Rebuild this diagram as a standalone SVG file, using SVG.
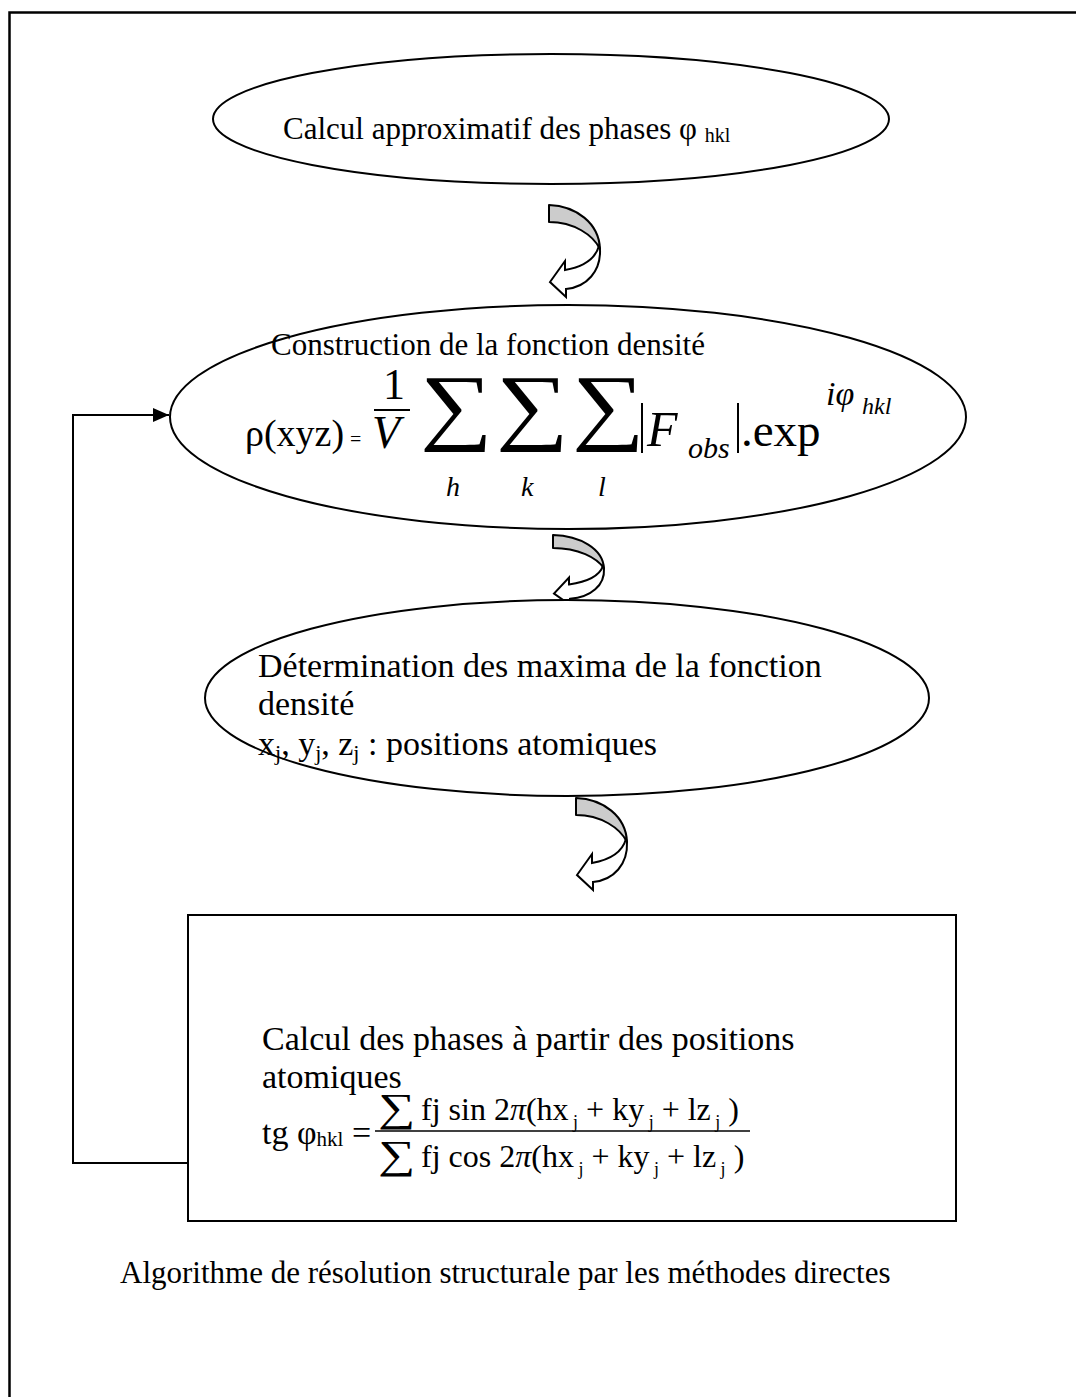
<svg xmlns="http://www.w3.org/2000/svg" width="1076" height="1397" viewBox="0 0 1076 1397">
<style>
.t{font-family:"Liberation Serif","Times New Roman",serif;font-size:31px;fill:#000}
.t2{font-family:"Liberation Serif","Times New Roman",serif;font-size:34px;fill:#000}
.m{font-family:"Liberation Serif","Times New Roman",serif;fill:#000}
.i{font-style:italic}
.node{fill:#fff;stroke:#000;stroke-width:2}
.gray{fill:#cccccc;stroke:#000;stroke-width:2;stroke-linejoin:round}
.white{fill:#fff;stroke:#000;stroke-width:2;stroke-linejoin:miter}
.conn{fill:none;stroke:#000;stroke-width:2}
</style>
<defs>
<marker id="ah" viewBox="0 0 16 14" refX="16" refY="7" markerWidth="16" markerHeight="14" markerUnits="userSpaceOnUse" orient="auto">
<path d="M0,0 L16,7 L0,14 Z" fill="#000"/>
</marker>
<g id="curve-arrow">
<path class="gray" vector-effect="non-scaling-stroke" d="M0,0 C27,1 50,18 51,44 C44,30 25,17 0,17 Z"/>
<path class="white" vector-effect="non-scaling-stroke" d="M51,44 C52,66 38,82 17,84 L17,92 L1,77 L16,56 L16,65 C33,62 46,55 50,41 Z"/>
</g>
</defs>
<rect x="0" y="0" width="1076" height="1397" fill="#fff"/>
<rect x="9.5" y="12.5" width="1090" height="1420" fill="none" stroke="#000" stroke-width="2.5"/>

<g id="connectors">
<use href="#curve-arrow" transform="translate(549,205)"/>
<use href="#curve-arrow" transform="translate(553,535) scale(1,0.76)"/>
<use href="#curve-arrow" transform="translate(576,798)"/>
<path class="conn" d="M188,1163 H73 V415 H169" marker-end="url(#ah)"/>
</g>

<g id="node-calcul-approx">
<ellipse class="node" cx="551" cy="119" rx="338" ry="65"/>
<text class="t" x="283" y="139">Calcul approximatif des phases φ <tspan font-size="20" dy="3">hkl</tspan></text>
</g>

<g id="node-construction">
<ellipse class="node" cx="568" cy="417" rx="398" ry="112"/>
<text class="t" x="271" y="355">Construction de la fonction densité</text>
<text class="m" x="245" y="446" font-size="38">ρ(xyz)</text>
<text class="m" x="350" y="446" font-size="20">=</text>
<text class="m" x="383" y="399" font-size="44">1</text>
<line x1="374" y1="410" x2="410" y2="410" stroke="#000" stroke-width="2"/>
<text class="m i" x="372" y="448" font-size="46">V</text>
<text class="m" transform="translate(420,434) scale(1.2,1)" font-size="85">∑</text>
<text class="m" transform="translate(496,434) scale(1.2,1)" font-size="85">∑</text>
<text class="m" transform="translate(572,434) scale(1.2,1)" font-size="85">∑</text>
<text class="m i" x="446" y="496" font-size="28">h</text>
<text class="m i" x="521" y="496" font-size="28">k</text>
<text class="m i" x="598" y="496" font-size="28">l</text>
<line x1="642" y1="403" x2="642" y2="453" stroke="#000" stroke-width="2"/>
<text class="m i" x="647" y="446" font-size="50">F</text>
<text class="m i" x="688" y="458" font-size="30">obs</text>
<line x1="738" y1="403" x2="738" y2="453" stroke="#000" stroke-width="2"/>
<text class="m" x="741" y="446" font-size="47">.exp</text>
<text class="m i" x="826" y="405" font-size="34">iφ</text>
<text class="m i" x="862" y="414" font-size="24">hkl</text>
</g>

<g id="node-maxima">
<ellipse class="node" cx="567" cy="698" rx="362" ry="98"/>
<text class="t2" x="258" y="677">Détermination des maxima de la fonction</text>
<text class="t2" x="258" y="715">densité</text>
<text class="t2" x="258" y="755">x<tspan font-size="22" dy="5">j</tspan><tspan dy="-5">, y</tspan><tspan font-size="22" dy="5">j</tspan><tspan dy="-5">, z</tspan><tspan font-size="22" dy="5">j</tspan><tspan dy="-5"> : positions atomiques</tspan></text>
</g>

<g id="node-calcul-phases">
<rect class="node" x="188" y="915" width="768" height="306"/>
<text class="t2" x="262" y="1050">Calcul des phases à partir des positions</text>
<text class="t2" x="262" y="1088">atomiques</text>
<text class="t2" x="262" y="1144">tg φ<tspan font-size="21" dy="2">hkl</tspan><tspan dy="-2"> =</tspan></text>
<line x1="375" y1="1131" x2="750" y2="1131" stroke="#000" stroke-width="1.5"/>
<text class="m" transform="translate(378,1121) scale(1.3,1)" font-size="40">∑</text>
<text class="m" transform="translate(378,1168) scale(1.3,1)" font-size="40">∑</text>
<text class="m" x="421" y="1120" font-size="32">fj  sin 2<tspan class="i">π</tspan>(hx<tspan font-size="18" dy="8"> j</tspan><tspan dy="-8"> + ky</tspan><tspan font-size="18" dy="8"> j</tspan><tspan dy="-8"> + lz</tspan><tspan font-size="18" dy="8"> j</tspan><tspan dy="-8"> )</tspan></text>
<text class="m" x="421" y="1167" font-size="32">fj  cos 2<tspan class="i">π</tspan>(hx<tspan font-size="18" dy="8"> j</tspan><tspan dy="-8"> + ky</tspan><tspan font-size="18" dy="8"> j</tspan><tspan dy="-8"> + lz</tspan><tspan font-size="18" dy="8"> j</tspan><tspan dy="-8"> )</tspan></text>
</g>

<text class="t" x="120" y="1283">Algorithme de résolution structurale par les méthodes directes</text>
</svg>
